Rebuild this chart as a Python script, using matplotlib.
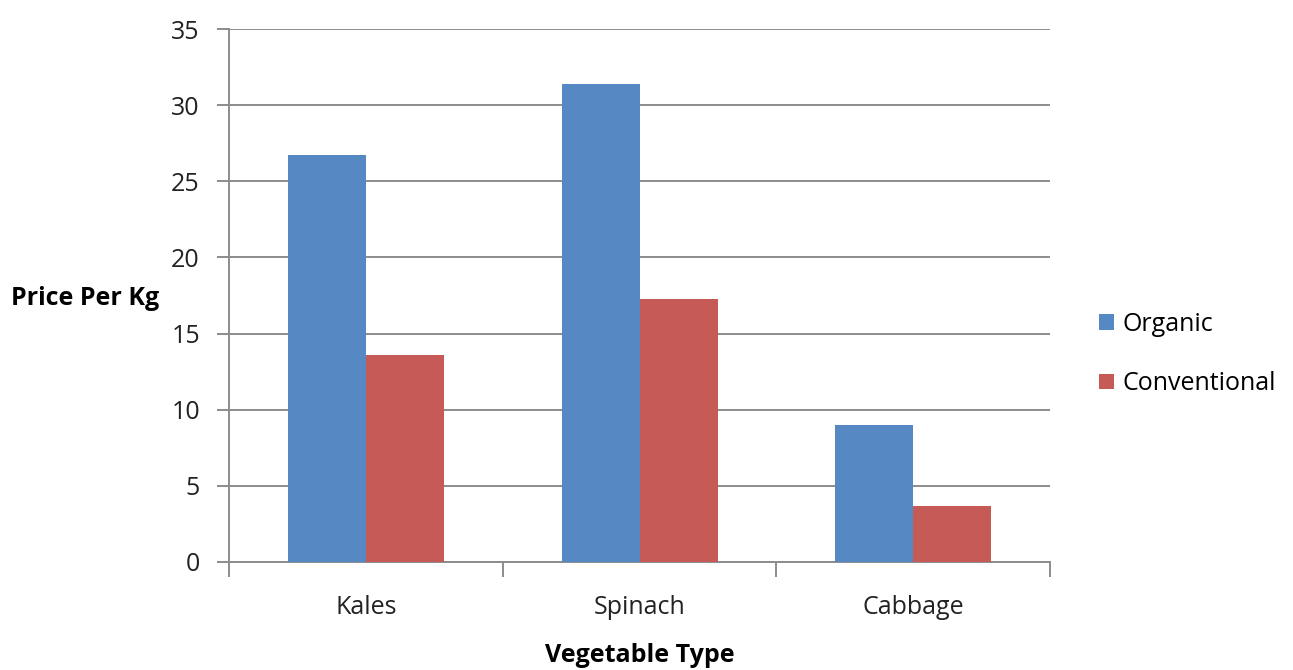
import matplotlib.pyplot as plt
import numpy as np

vegetables = ['Kales', 'Spinach', 'Cabbage']
organic = [26.7, 31.4, 9.0]
conventional = [13.6, 17.3, 3.7]

series_names = ['Organic', 'Conventional']
series_colors = ['#5689C3', '#C55A56']
grid_color = '#8C8C8C'
text_color = '#222222'

plt.rcParams['font.family'] = ['Open Sans', 'DejaVu Sans']

fig = plt.figure(figsize=(12.93, 6.70), dpi=100)
ax = fig.add_axes([0.1771, 0.1612, 0.635, 0.7955])

x = np.arange(len(vegetables))
width = 0.285
ax.bar(x - width / 2, organic, width, color=series_colors[0], label=series_names[0], zorder=3)
ax.bar(x + width / 2, conventional, width, color=series_colors[1], label=series_names[1], zorder=3)

ax.set_xlim(-0.5, len(vegetables) - 0.5)
ax.set_ylim(0, 35)
ax.set_yticks(range(0, 36, 5))
ax.yaxis.grid(True, color=grid_color, linewidth=1.4, zorder=0)

# category labels sit between the boundary ticks
ax.set_xticks(x)
ax.set_xticklabels(vegetables)
ax.set_xticks(np.arange(-0.5, len(vegetables), 1), minor=True)
ax.tick_params(axis='x', which='major', length=0, pad=24, labelsize=18, labelcolor=text_color)
ax.tick_params(axis='x', which='minor', length=11, width=1.4, color=grid_color)
ax.tick_params(axis='y', length=9, width=1.4, color=grid_color, pad=12, labelsize=18, labelcolor=text_color)

for side in ['top', 'right']:
    ax.spines[side].set_visible(False)
for side in ['left', 'bottom']:
    ax.spines[side].set_color(grid_color)
    ax.spines[side].set_linewidth(1.4)

ax.set_xlabel('Vegetable Type', fontsize=18, fontweight='bold', va='center')
ax.xaxis.set_label_coords(0.5, -0.1745)
ax.set_ylabel('Price Per Kg', fontsize=18, fontweight='bold', rotation=0, va='center', ha='center')
ax.yaxis.set_label_coords(-0.175, 0.495)

ax.legend(loc='center left', bbox_to_anchor=(1.06, 0.39), frameon=False, fontsize=18,
          borderpad=0, borderaxespad=0, handlelength=0.6, handleheight=0.6,
          handletextpad=0.32, labelspacing=1.37)

fig.savefig('out.png', dpi=100)
